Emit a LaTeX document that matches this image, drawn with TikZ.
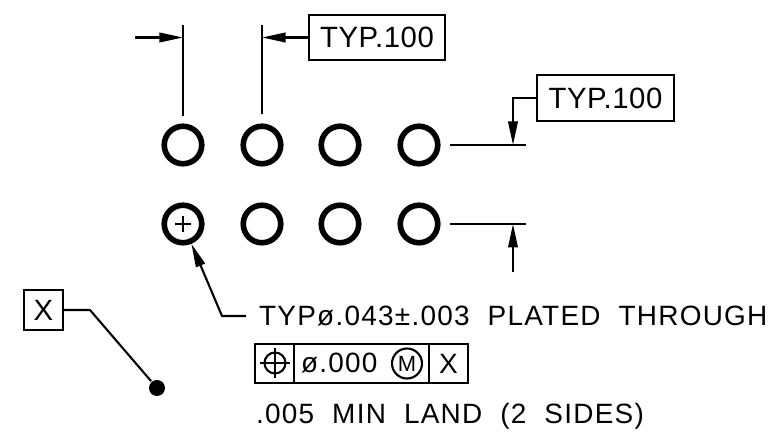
\documentclass[tikz,border=0pt]{standalone}
\usepackage{fontspec}
\setmainfont[LetterSpace=2]{Liberation Sans}
\newfontfamily\notefont[LetterSpace=4.5,WordSpace=2]{Liberation Sans}
\usetikzlibrary{arrows.meta}

\tikzset{
  hole/.style={circle,draw,line width=3.2pt,minimum size=7.5mm,inner sep=0pt},
  tagbox/.style={rectangle,draw,line width=1.2pt,inner sep=0pt,font=\fontsize{16.7}{20}\selectfont},
  note/.style={anchor=west,inner sep=0pt,text height=11.3pt,text depth=0pt,font=\notefont\fontsize{15.9}{20}\selectfont},
  cell/.style={rectangle,draw,line width=1.2pt,inner sep=0pt,minimum height=7.8mm,font=\notefont\fontsize{15.9}{20}\selectfont}
}

\begin{document}
\begin{tikzpicture}[x=0.2mm,y=-0.2mm,->,>={Stealth[length=4.7mm,width=1.9mm,inset=0pt]},line width=1.2pt]
    \useasboundingbox (0,0) rectangle (784,434);

    % Holes
    \node[hole] (h1) at (183,145) {};
    \node[hole] (h2) at (262,145) {};
    \node[hole] (h3) at (340,145) {};
    \node[hole] (h4) at (419,145) {};
    \node[hole] (h5) at (183,224) {};
    \node[hole] (h6) at (262,224) {};
    \node[hole] (h7) at (340,224) {};
    \node[hole] (h8) at (419,224) {};

    % Boxes
    \node[tagbox,minimum width=27.2mm,minimum height=9mm] (typa) at (377,37.5) {TYP.100};
    \node[tagbox,minimum width=27.4mm,minimum height=9.2mm] (typb) at (605.5,98) {TYP.100};
    \node[tagbox,minimum width=7.8mm,minimum height=8mm] (xbox) at (43.5,310) {X};

    % Notes
    \node[note] (holenote) at (258,316) {TYPø.043±.003 PLATED THROUGH};
    \node[note] (landnote) at (255,414) {.005 MIN LAND (2 SIDES)};

    % Frame
    \node[cell,minimum width=7.8mm] (fsym) at (274.5,363.5) {};
    \node[cell,minimum width=27mm] (fval) at (361.5,363.5) {};
    \node[cell,minimum width=7.8mm] (fref) at (448.5,363.5) {X};
    \node[anchor=west,inner sep=0pt,font=\notefont\fontsize{15.9}{20}\selectfont] (fdia) at (300,363.5) {ø.000};
    \node[circle,draw,line width=1.2pt,minimum size=6mm,inner sep=0pt,font=\fontsize{12.5}{14}\selectfont] (fmat) at (407,363.5) {M};
    \node[circle,draw,line width=1.2pt,minimum size=4.2mm,inner sep=0pt] (fpos) at (275,363) {};

    % Points
    \coordinate (e1a) at (183,25);
    \coordinate (e1b) at (183,116);
    \coordinate (e2a) at (262,25);
    \coordinate (e2b) at (262,114);
    \coordinate (a1s) at (135,37.5);
    \coordinate (a1e) at (183,37.5);
    \coordinate (a2e) at (262,37.5);
    \coordinate (e3a) at (450,145);
    \coordinate (e3b) at (526,145);
    \coordinate (e4a) at (450,224);
    \coordinate (e4b) at (526,224);
    \coordinate (a3e) at (513,145);
    \coordinate (a4s) at (513,272);
    \coordinate (a4e) at (513,224);
    \coordinate (bend) at (222,316);
    \coordinate (gap) at (246,316);
    \coordinate (kink) at (90,310);
    \node[circle,fill,minimum size=3.2mm,inner sep=0pt] (dot) at (157,388) {};

    % Extension lines
    \draw[-] (e1a) -- (e1b);
    \draw[-] (e2a) -- (e2b);
    \draw[-] (e3a) -- (e3b);
    \draw[-] (e4a) -- (e4b);

    % Arrows
    \draw (a1s) -- (a1e);
    \draw (typa) -- (a2e);
    \draw (typb.west) -| (a3e);
    \draw (a4s) -- (a4e);
    \draw (gap) -- (bend) -- (h5);
    \draw[-] (xbox.east) -- (kink) -- (dot);

    % Crosses
    \draw[-] (h5.center) +(-8,0) -- +(8,0);
    \draw[-] (h5.center) +(0,-8) -- +(0,8);
    \draw[-] (fpos.center) +(-15,0) -- +(15,0);
    \draw[-] (fpos.center) +(0,-15) -- +(0,15);
\end{tikzpicture}
\end{document}
